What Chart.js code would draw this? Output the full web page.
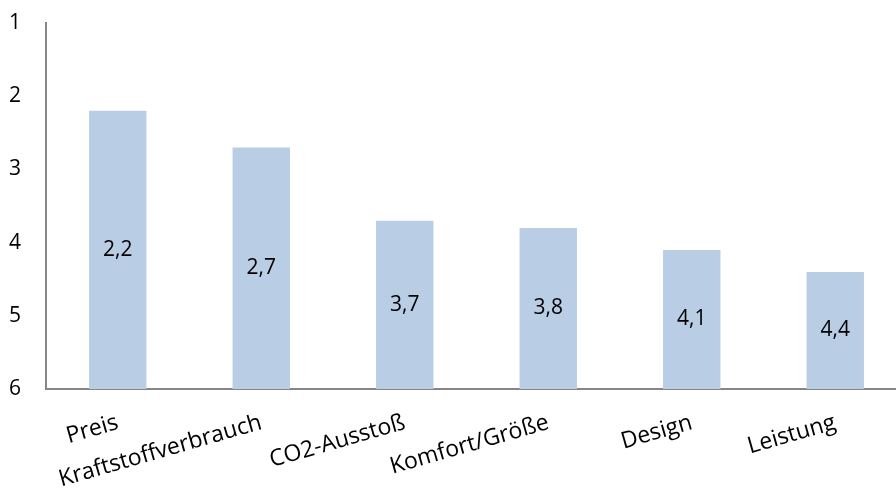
<!DOCTYPE html>
<html lang="de">
<head>
  <meta charset="UTF-8" />
  <title>Kaufkriterien</title>
  <script src="https://cdn.jsdelivr.net/npm/chart.js"></script>
  <style>
    html, body {
      margin: 0;
      padding: 0;
      background: #fff;
      overflow: hidden;
    }
    #wrap {
      width: 910px;
      height: 495px;
    }
  </style>
</head>
<body>
  <div id="wrap">
    <canvas id="rankChart" width="910" height="495"></canvas>
  </div>

  <script>
    const categories = ["Preis", "Kraftstoffverbrauch", "CO2-Ausstoß", "Komfort/Größe", "Design", "Leistung"];
    const ranks = [2.2, 2.7, 3.7, 3.8, 4.1, 4.4];
    const rankTicks = [1, 2, 3, 4, 5, 6];

    const fontFamily = "'Open Sans', 'Noto Sans', sans-serif";

    // draws the value in the middle of every bar, German decimal comma
    const barLabels = {
      id: "barLabels",
      afterDatasetsDraw(chart) {
        const ctx = chart.ctx;
        const meta = chart.getDatasetMeta(0);
        ctx.save();
        ctx.font = "21px " + fontFamily;
        ctx.fillStyle = "#000";
        ctx.textAlign = "center";
        ctx.textBaseline = "middle";
        meta.data.forEach((bar, i) => {
          const txt = ranks[i].toFixed(1).replace(".", ",");
          ctx.fillText(txt, bar.x, (bar.y + bar.base) / 2);
        });
        ctx.restore();
      }
    };

    new Chart(document.getElementById("rankChart"), {
      type: "bar",
      data: {
        labels: categories,
        datasets: [{
          data: ranks,
          base: 6,
          backgroundColor: "#B9CDE5",
          barPercentage: 0.4,
          categoryPercentage: 1.0
        }]
      },
      options: {
        responsive: false,
        animation: false,
        layout: {
          padding: { left: 8, top: 23, right: 3, bottom: 0 }
        },
        plugins: {
          legend: { display: false },
          tooltip: { enabled: false }
        },
        scales: {
          x: {
            grid: { display: false, drawTicks: false },
            border: { display: true, color: "#868686", width: 2 },
            ticks: {
              color: "#000",
              font: { family: fontFamily, size: 23 },
              minRotation: 16,
              maxRotation: 16,
              padding: 20,
              autoSkip: false
            },
            afterFit(scale) {
              // fixed axis band, no extra side padding from rotated labels
              scale.paddingLeft = 0;
              scale.paddingRight = 0;
              scale.height = 106;
            }
          },
          y: {
            reverse: true,
            min: 1,
            max: 6,
            afterBuildTicks(scale) {
              scale.ticks = rankTicks.map(v => ({ value: v }));
            },
            grid: { display: false, drawTicks: false },
            border: { display: true, color: "#868686", width: 2 },
            ticks: {
              color: "#000",
              font: { family: fontFamily, size: 21 },
              padding: 25
            },
            afterFit(scale) {
              scale.width = 38;
              scale.paddingTop = 0;
              scale.paddingBottom = 0;
            }
          }
        }
      },
      plugins: [barLabels]
    });
  </script>
</body>
</html>
